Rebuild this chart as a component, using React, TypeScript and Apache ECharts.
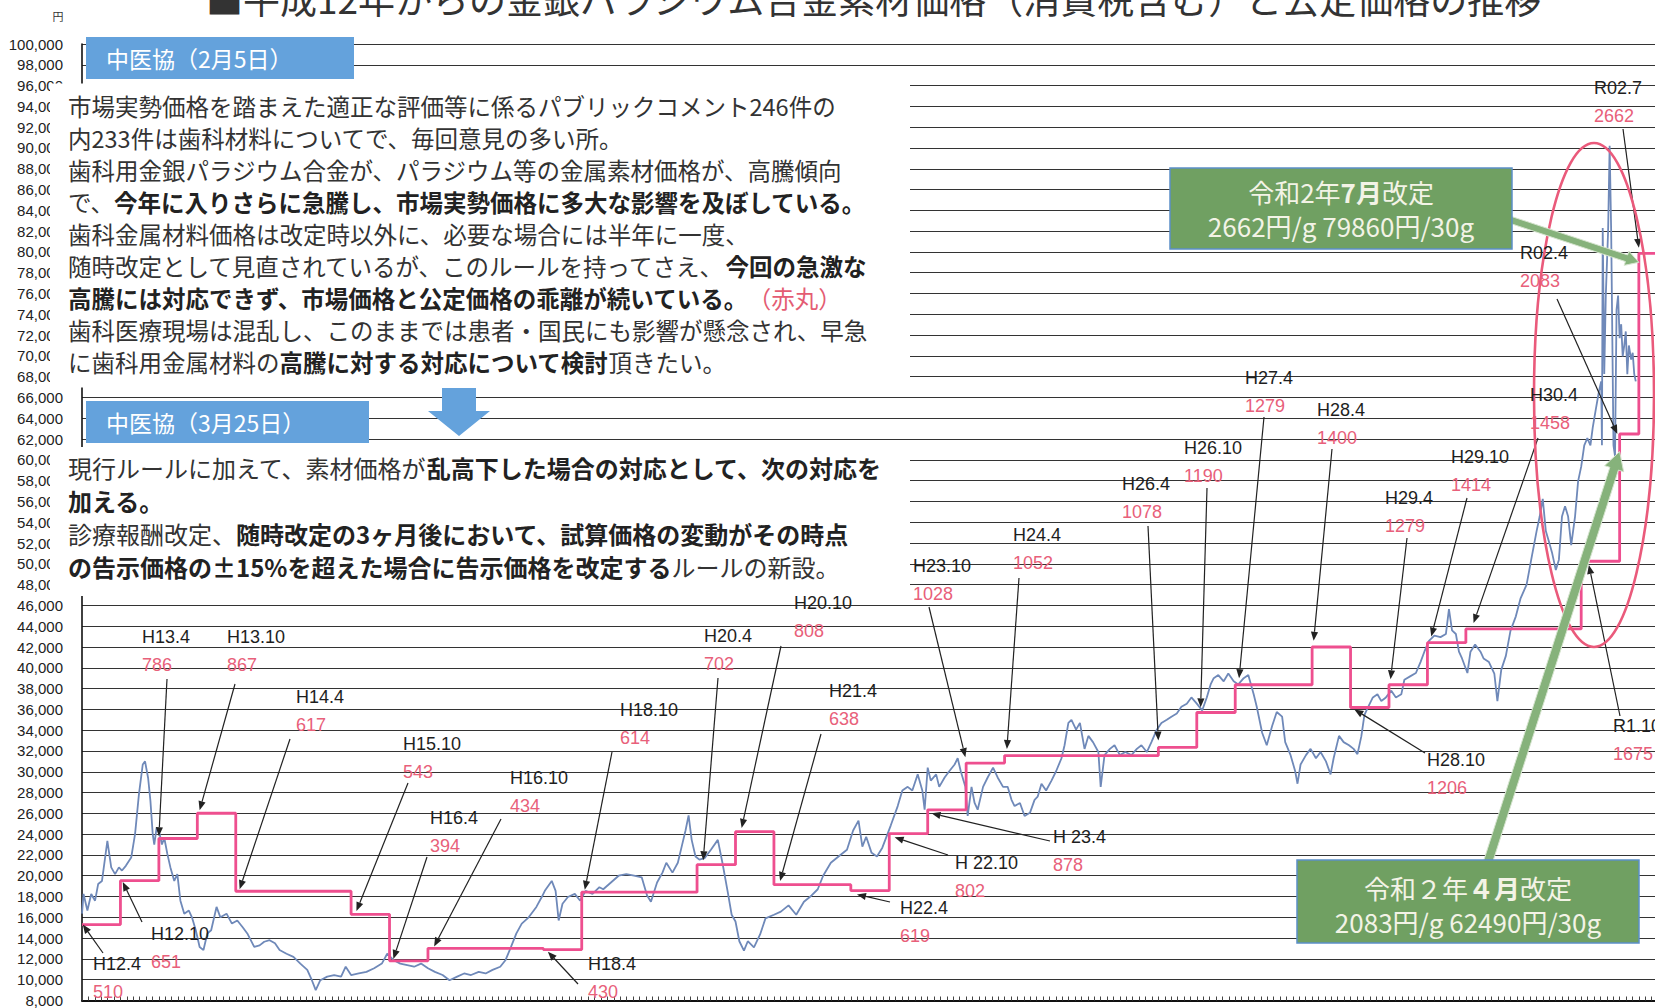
import React, { useEffect, useRef } from "react";
import * as echarts from "echarts";

// ---------- axis ranges ----------
const X_MIN = 2000.25;
const X_MAX = 2020.71;
const Y_MIN = 8000;
const Y_MAX = 100000;
const Y_STEP = 2000;

// ---------- official price revisions (円/g) ----------
const revisionYears = [
  2000.25, 2000.75, 2001.25, 2001.75, 2002.25, 2003.75, 2004.25, 2004.75, 2006.25, 2006.75,
  2008.25, 2008.75, 2009.25, 2010.25, 2010.75, 2011.25, 2011.75, 2012.25, 2014.25, 2014.75,
  2015.25, 2016.25, 2016.75, 2017.25, 2017.75, 2018.25, 2019.75, 2020.25, 2020.5,
];
const revisionLabels = [
  "H12.4", "H12.10", "H13.4", "H13.10", "H14.4", "H15.10", "H16.4", "H16.10", "H18.4", "H18.10",
  "H20.4", "H20.10", "H21.4", "H22.4", "H 22.10", "H 23.4", "H23.10", "H24.4", "H26.4", "H26.10",
  "H27.4", "H28.4", "H28.10", "H29.4", "H29.10", "H30.4", "R1.10", "R02.4", "R02.7",
];
const pricePerGram = [
  510, 651, 786, 867, 617, 543, 394, 434, 430, 614,
  702, 808, 638, 619, 802, 878, 1028, 1052, 1078, 1190,
  1279, 1400, 1206, 1279, 1414, 1458, 1675, 2083, 2662,
];
const GRAMS = 30;

// ---------- market material price (円/30g) ----------
const market2000to2006: [number, number][] = [
  [2000.25, 16350], [2000.27, 18250], [2000.32, 16650], [2000.37, 18250], [2000.42, 17600],
  [2000.46, 19200], [2000.51, 19500], [2000.58, 23350], [2000.63, 20800], [2000.68, 20150],
  [2000.73, 20800], [2000.77, 20500], [2000.82, 20950], [2000.89, 21750], [2000.94, 24000],
  [2000.99, 27800], [2001.04, 30700], [2001.07, 31000], [2001.11, 29400], [2001.14, 27200],
  [2001.17, 24000], [2001.19, 23000], [2001.22, 24600], [2001.26, 24000], [2001.29, 23000],
  [2001.32, 23650], [2001.36, 22100], [2001.40, 20800], [2001.45, 19500], [2001.49, 20150],
  [2001.53, 17600], [2001.58, 16350], [2001.64, 16650], [2001.68, 16000], [2001.73, 14750],
  [2001.78, 13150], [2001.83, 12850], [2001.88, 14450], [2001.93, 14750], [2002.00, 17000],
  [2002.05, 16000], [2002.13, 16350], [2002.20, 15400], [2002.27, 15700], [2002.34, 15050],
  [2002.40, 14450], [2002.49, 13150], [2002.56, 13300], [2002.62, 13650], [2002.69, 13800],
  [2002.76, 13500], [2002.82, 12850], [2002.91, 12500], [2003.00, 12200], [2003.09, 11550],
  [2003.18, 10950], [2003.24, 9950], [2003.29, 9000], [2003.35, 9950], [2003.44, 10300],
  [2003.53, 10450], [2003.62, 10300], [2003.68, 11250], [2003.75, 10450], [2003.85, 10600],
  [2003.95, 10750], [2004.05, 11100], [2004.15, 11550], [2004.22, 12500], [2004.30, 11900],
  [2004.39, 11550], [2004.48, 11400], [2004.57, 11250], [2004.66, 11550], [2004.75, 11100],
  [2004.84, 10750], [2004.94, 10450], [2005.03, 9950], [2005.13, 10300], [2005.22, 10600],
  [2005.31, 10450], [2005.41, 10750], [2005.50, 10600], [2005.59, 10950], [2005.69, 11250],
  [2005.76, 11900], [2005.83, 13150], [2005.90, 14450], [2005.97, 15400], [2006.06, 16000],
  [2006.16, 17000], [2006.23, 17950], [2006.27, 18550], [2006.36, 19500], [2006.41, 18550],
  [2006.45, 15700], [2006.50, 17300], [2006.57, 17950], [2006.66, 18250], [2006.73, 17600],
  [2006.80, 18550], [2006.89, 18250], [2006.98, 18900],
];
const market2007to2010: [number, number][] = [
  [2007.03, 18700], [2007.13, 19350], [2007.23, 20000], [2007.33, 20150], [2007.43, 20000],
  [2007.53, 19850], [2007.60, 18100], [2007.65, 17500], [2007.73, 19350], [2007.80, 20300],
  [2007.85, 21250], [2007.93, 20300], [2008.00, 21250], [2008.05, 22800], [2008.10, 24350],
  [2008.14, 25800], [2008.18, 23450], [2008.23, 21850], [2008.28, 21550], [2008.35, 21700],
  [2008.43, 22500], [2008.52, 23450], [2008.58, 21250], [2008.65, 18400], [2008.70, 16250],
  [2008.75, 15600], [2008.80, 13700], [2008.86, 12800], [2008.91, 13700], [2008.99, 13100],
  [2009.07, 14350], [2009.14, 15900], [2009.25, 16250], [2009.34, 16550], [2009.44, 17150],
  [2009.54, 16250], [2009.64, 17500], [2009.74, 18100], [2009.82, 18700], [2009.89, 20000],
  [2009.99, 21250], [2010.09, 21850], [2010.20, 22500], [2010.28, 24350], [2010.35, 25300],
  [2010.40, 22800], [2010.45, 23750], [2010.52, 22200], [2010.59, 21850],
];
const market2010to2016: [number, number][] = [
  [2010.66, 22700], [2010.77, 24850], [2010.86, 26700], [2010.92, 28200], [2010.99, 28550],
  [2011.05, 28200], [2011.12, 29750], [2011.18, 28200], [2011.21, 26350], [2011.25, 30400],
  [2011.29, 29150], [2011.36, 29750], [2011.40, 28550], [2011.47, 29450], [2011.53, 30050],
  [2011.60, 30700], [2011.64, 31300], [2011.68, 30050], [2011.74, 28550], [2011.77, 25750],
  [2011.82, 28550], [2011.86, 27000], [2011.90, 26350], [2011.97, 28550], [2012.03, 29450],
  [2012.10, 30400], [2012.16, 29450], [2012.23, 28550], [2012.29, 28550], [2012.34, 27300],
  [2012.38, 26700], [2012.45, 27000], [2012.51, 25750], [2012.58, 26050], [2012.64, 27300],
  [2012.68, 27600], [2012.73, 28850], [2012.79, 28200], [2012.86, 29150], [2012.92, 30050],
  [2012.99, 31300], [2013.03, 32550], [2013.08, 34700], [2013.12, 35000], [2013.18, 34050],
  [2013.23, 34700], [2013.29, 32200], [2013.34, 33450], [2013.40, 32850], [2013.47, 31900],
  [2013.50, 28550], [2013.55, 31600], [2013.62, 32200], [2013.68, 32550], [2013.75, 31600],
  [2013.82, 31900], [2013.90, 31600], [2013.97, 32200], [2014.03, 32550], [2014.10, 31900],
  [2014.16, 32850], [2014.23, 34050], [2014.29, 34700], [2014.36, 35000], [2014.42, 35300],
  [2014.49, 35600], [2014.55, 36250], [2014.62, 36550], [2014.68, 37150], [2014.75, 36550],
  [2014.82, 35900], [2014.88, 37150], [2014.93, 38400], [2014.97, 39000], [2015.03, 39300],
  [2015.10, 38700], [2015.16, 39450], [2015.23, 38700], [2015.29, 38400], [2015.36, 39000],
  [2015.42, 39300], [2015.49, 37450], [2015.53, 36250], [2015.60, 33750], [2015.66, 32550],
  [2015.73, 34400], [2015.79, 35750], [2015.86, 35300], [2015.90, 32850], [2015.97, 31600],
  [2016.03, 30050], [2016.06, 28850], [2016.10, 30700], [2016.17, 31600], [2016.23, 32200],
  [2016.30, 31300], [2016.36, 31900], [2016.43, 31000], [2016.49, 29750], [2016.53, 31300],
  [2016.60, 33450], [2016.66, 32850], [2016.73, 32550], [2016.79, 32200],
];
const market2017to2020: [number, number][] = [
  [2016.84, 31700], [2016.89, 33400], [2016.93, 35450], [2016.97, 36100], [2017.04, 37150],
  [2017.10, 37450], [2017.15, 36800], [2017.21, 37150], [2017.28, 37800], [2017.34, 37150],
  [2017.41, 37450], [2017.45, 38850], [2017.53, 39200], [2017.60, 39500], [2017.66, 40550],
  [2017.71, 41550], [2017.77, 42600], [2017.84, 43100], [2017.92, 42950], [2017.99, 43250],
  [2018.03, 45650], [2018.07, 43600], [2018.12, 43250], [2018.16, 41550], [2018.20, 40900],
  [2018.27, 39500], [2018.31, 41550], [2018.37, 42250], [2018.44, 41550], [2018.48, 40900],
  [2018.55, 40550], [2018.62, 39450], [2018.66, 36800], [2018.71, 39800], [2018.77, 41150],
  [2018.83, 43550], [2018.90, 44950], [2018.96, 46650], [2019.04, 48000], [2019.10, 50400],
  [2019.17, 53150], [2019.21, 54550], [2019.25, 56250], [2019.29, 53150], [2019.33, 52150],
  [2019.37, 51100], [2019.42, 49400], [2019.46, 50400], [2019.50, 54550], [2019.54, 55550],
  [2019.58, 54550], [2019.62, 51800], [2019.67, 54550], [2019.71, 57950], [2019.75, 59350],
  [2019.79, 61400], [2019.83, 62100], [2019.87, 61400], [2019.90, 63100], [2019.94, 64850],
  [2019.98, 66550], [2020.01, 67550], [2020.02, 61400], [2020.03, 82300], [2020.05, 68250],
  [2020.07, 75800], [2020.10, 82000], [2020.12, 90200], [2020.14, 82000], [2020.17, 61400],
  [2020.19, 60350], [2020.21, 74450], [2020.23, 75800], [2020.25, 71700], [2020.27, 73050],
  [2020.29, 69950], [2020.31, 71000], [2020.33, 72350], [2020.35, 68250], [2020.37, 71000],
  [2020.40, 69650], [2020.42, 70300], [2020.44, 68250], [2020.46, 67550],
];

// ---------- annotation layout (label pos px, arrow start px, arrow tip in data coords) ----------
const annotationLayout: { nx: number; ny: number; ax: number; ay: number; tip: [number, number] }[] = [
  { nx: 93, ny: 964, ax: 103, ay: 953, tip: [2000.26, 15300] },
  { nx: 151, ny: 934, ax: 142, ay: 922, tip: [2000.78, 19400] },
  { nx: 142, ny: 637, ax: 167, ay: 679, tip: [2001.25, 23800] },
  { nx: 227, ny: 637, ax: 235, ay: 684, tip: [2001.78, 26300] },
  { nx: 296, ny: 697, ax: 290, ay: 739, tip: [2002.3, 18700] },
  { nx: 403, ny: 744, ax: 408, ay: 783, tip: [2003.82, 16600] },
  { nx: 430, ny: 818, ax: 427, ay: 857, tip: [2004.3, 12000] },
  { nx: 510, ny: 778, ax: 501, ay: 819, tip: [2004.83, 13200] },
  { nx: 588, ny: 964, ax: 578, ay: 984, tip: [2006.31, 12700] },
  { nx: 620, ny: 710, ax: 612, ay: 752, tip: [2006.79, 18650] },
  { nx: 704, ny: 636, ax: 718, ay: 678, tip: [2008.33, 21500] },
  { nx: 794, ny: 603, ax: 781, ay: 646, tip: [2008.83, 24600] },
  { nx: 829, ny: 691, ax: 821, ay: 734, tip: [2009.33, 19500] },
  { nx: 900, ny: 908, ax: 890, ay: 902, tip: [2010.33, 18200] },
  { nx: 955, ny: 863, ax: 948, ay: 855, tip: [2010.82, 23700] },
  { nx: 1053, ny: 837, ax: 1050, ay: 841, tip: [2011.3, 26000] },
  { nx: 913, ny: 566, ax: 929, ay: 607, tip: [2011.74, 31400] },
  { nx: 1013, ny: 535, ax: 1019, ay: 578, tip: [2012.28, 32200] },
  { nx: 1122, ny: 484, ax: 1148, ay: 526, tip: [2014.25, 33000] },
  { nx: 1184, ny: 448, ax: 1207, ay: 488, tip: [2014.8, 36200] },
  { nx: 1245, ny: 378, ax: 1264, ay: 417, tip: [2015.3, 39000] },
  { nx: 1317, ny: 410, ax: 1332, ay: 449, tip: [2016.27, 42600] },
  { nx: 1427, ny: 760, ax: 1425, ay: 753, tip: [2016.8, 36000] },
  { nx: 1385, ny: 498, ax: 1407, ay: 538, tip: [2017.27, 38900] },
  { nx: 1451, ny: 457, ax: 1467, ay: 498, tip: [2017.8, 43000] },
  { nx: 1530, ny: 395, ax: 1538, ay: 438, tip: [2018.35, 44300] },
  { nx: 1613, ny: 726, ax: 1620, ay: 716, tip: [2019.85, 49900] },
  { nx: 1520, ny: 253, ax: 1557, ay: 299, tip: [2020.22, 62490] },
  { nx: 1594, ny: 88, ax: 1623, ay: 129, tip: [2020.5, 80400] },
];

// ---------- texts ----------
const TITLE = "■平成12年からの金銀パラジウム合金素材価格（消費税含む）と公定価格の推移";
const HEADER1 = "中医協（2月5日）";
const HEADER2 = "中医協（3月25日）";
const block1Lines = [
  "{n|市場実勢価格を踏まえた適正な評価等に係るパブリックコメント246件の}",
  "{n|内233件は歯科材料についてで、毎回意見の多い所。}",
  "{n|歯科用金銀パラジウム合金が、パラジウム等の金属素材価格が、高騰傾向}",
  "{n|で、}{b|今年に入りさらに急騰し、市場実勢価格に多大な影響を及ぼしている。}",
  "{n|歯科金属材料価格は改定時以外に、必要な場合には半年に一度、}",
  "{n|随時改定として見直されているが、このルールを持ってさえ、}{b|今回の急激な}",
  "{b|高騰には対応できず、市場価格と公定価格の乖離が続いている。}{r|（赤丸）}",
  "{n|歯科医療現場は混乱し、このままでは患者・国民にも影響が懸念され、早急}",
  "{n|に歯科用金属材料の}{b|高騰に対する対応について検討}{n|頂きたい。}",
];
const block2Lines = [
  "{n|現行ルールに加えて、素材価格が}{b|乱高下した場合の対応として、次の対応を}",
  "{b|加える。}",
  "{n|診療報酬改定、}{b|随時改定の3ヶ月後において、試算価格の変動がその時点}",
  "{b|の告示価格の±15%を超えた場合に告示価格を改定する}{n|ルールの新設。}",
];
const boxJulyLines = ["{n|令和2年}{b|7月}{n|改定}", "{n|2662円/g 79860円/30g}"];
const boxAprilLines = ["{n|令和２年}{b|４月}{n|改定}", "{n|2083円/g 62490円/30g}"];

const JP = "'Noto Sans CJK JP', 'Noto Sans CJK SC', sans-serif";
const LAT = "'Liberation Sans', Arial, sans-serif";

function richText(fontSize: number, color: string, boldColor: string) {
  return {
    n: { fontSize, fontFamily: JP, fill: color, fontWeight: "normal" },
    b: { fontSize, fontFamily: JP, fill: boldColor, fontWeight: "bold" },
    r: { fontSize, fontFamily: JP, fill: "#e45c73", fontWeight: "normal" },
  };
}

function thinArrow(x1: number, y1: number, x2: number, y2: number) {
  const dx = x2 - x1, dy = y2 - y1;
  const L = Math.hypot(dx, dy) || 1;
  const ux = dx / L, uy = dy / L, pxv = -uy, pyv = ux;
  const hl = 9, hw = 3.6;
  const bx = x2 - ux * hl, by = y2 - uy * hl;
  return [
    { type: "line", z: 110, shape: { x1, y1, x2: bx, y2: by }, style: { stroke: "#222", lineWidth: 1.2 } },
    {
      type: "polygon", z: 110,
      shape: { points: [[x2, y2], [bx + pxv * hw, by + pyv * hw], [bx - pxv * hw, by - pyv * hw]] },
      style: { fill: "#222" },
    },
  ];
}

function fatArrow(x1: number, y1: number, x2: number, y2: number, w: number, hw: number, hl: number) {
  const dx = x2 - x1, dy = y2 - y1;
  const L = Math.hypot(dx, dy) || 1;
  const ux = dx / L, uy = dy / L, p = [-uy, ux];
  const bx = x2 - ux * hl, by = y2 - uy * hl;
  const pts = [
    [x1 + p[0] * w, y1 + p[1] * w],
    [bx + p[0] * w, by + p[1] * w],
    [bx + p[0] * hw, by + p[1] * hw],
    [x2, y2],
    [bx - p[0] * hw, by - p[1] * hw],
    [bx - p[0] * w, by - p[1] * w],
    [x1 - p[0] * w, y1 - p[1] * w],
  ];
  return {
    type: "polygon", z: 115, shape: { points: pts },
    style: { fill: "#86b27b", stroke: "#d6e4cf", lineWidth: 1 },
  };
}

function buildGraphics(px: (p: number[]) => number[]) {
  const g: any[] = [];
  // white text panels covering the grid
  g.push({ type: "rect", z: 100, shape: { x: 50, y: 83.5, width: 860, height: 304 }, style: { fill: "#fff" } });
  g.push({ type: "rect", z: 100, shape: { x: 50, y: 447, width: 860, height: 149 }, style: { fill: "#fff" } });

  // title (cut at top) and unit
  g.push({
    type: "text", z: 120, x: 206, y: -2,
    style: { text: TITLE, fontSize: 37, fontFamily: JP, fill: "#333", textVerticalAlign: "middle" },
  });
  g.push({
    type: "text", z: 120, x: 58, y: 16,
    style: { text: "円", fontSize: 11, fontFamily: JP, fill: "#333", textAlign: "center", textVerticalAlign: "middle" },
  });

  // blue header boxes
  g.push({ type: "rect", z: 105, shape: { x: 86, y: 37, width: 268, height: 42 }, style: { fill: "#64a2dc" } });
  g.push({
    type: "text", z: 120, x: 106, y: 58,
    style: { text: HEADER1, fontSize: 23, fontFamily: JP, fill: "#fff", textVerticalAlign: "middle" },
  });
  g.push({ type: "rect", z: 105, shape: { x: 86, y: 401, width: 283, height: 42 }, style: { fill: "#64a2dc" } });
  g.push({
    type: "text", z: 120, x: 106, y: 422,
    style: { text: HEADER2, fontSize: 23, fontFamily: JP, fill: "#fff", textVerticalAlign: "middle" },
  });
  // blue down arrow
  g.push({
    type: "polygon", z: 105,
    shape: { points: [[442, 388], [476, 388], [476, 411], [490, 411], [459, 436], [428, 411], [442, 411]] },
    style: { fill: "#64a2dc" },
  });

  // paragraph text
  block1Lines.forEach((line, i) => {
    g.push({
      type: "text", z: 120, x: 68, y: 105.5 + i * 32,
      style: { text: line, rich: richText(23.5, "#333", "#222"), fontSize: 23.5, fontFamily: JP, textVerticalAlign: "middle" },
    });
  });
  block2Lines.forEach((line, i) => {
    g.push({
      type: "text", z: 120, x: 68, y: 467.5 + i * 33,
      style: { text: line, rich: richText(24, "#333", "#222"), fontSize: 24, fontFamily: JP, textVerticalAlign: "middle" },
    });
  });

  // revision annotations
  annotationLayout.forEach((a, i) => {
    g.push({
      type: "text", z: 120, x: a.nx, y: a.ny,
      style: { text: revisionLabels[i], fontSize: 18, fontFamily: LAT, fill: "#1e1e1e", textVerticalAlign: "middle" },
    });
    g.push({
      type: "text", z: 120, x: a.nx, y: a.ny + 28,
      style: { text: String(pricePerGram[i]), fontSize: 18, fontFamily: LAT, fill: "#e8607a", textVerticalAlign: "middle" },
    });
    const t = px(a.tip);
    thinArrow(a.ax, a.ay, t[0], t[1]).forEach((e) => g.push(e));
  });

  // red ellipse
  g.push({
    type: "ellipse", z: 112,
    shape: { cx: 1594, cy: 395, rx: 60, ry: 252 },
    style: { fill: "none", stroke: "#ea5a7b", lineWidth: 2.6 },
  });

  // green boxes + arrows
  const tipJuly = px([revisionYears[28], 79000]);
  const tipApril = px([revisionYears[27], 60800]);
  g.push(fatArrow(1508, 219, tipJuly[0], tipJuly[1], 3.5, 7.5, 13));
  g.push(fatArrow(1488, 862, tipApril[0], tipApril[1], 4.5, 10, 18));

  g.push({
    type: "rect", z: 116, shape: { x: 1170, y: 168, width: 342, height: 81 },
    style: { fill: "#70a062", stroke: "#5b8fc7", lineWidth: 1.5 },
  });
  boxJulyLines.forEach((line, i) => {
    g.push({
      type: "text", z: 120, x: 1341, y: 191 + i * 34,
      style: { text: line, rich: richText(26, "#f3f3e6", "#f3f3e6"), fontSize: 26, fontFamily: JP, textAlign: "center", textVerticalAlign: "middle" },
    });
  });
  g.push({
    type: "rect", z: 116, shape: { x: 1297, y: 860, width: 342, height: 83 },
    style: { fill: "#70a062", stroke: "#5b8fc7", lineWidth: 1.5 },
  });
  boxAprilLines.forEach((line, i) => {
    g.push({
      type: "text", z: 120, x: 1468, y: 887 + i * 34,
      style: { text: line, rich: richText(26, "#f3f3e6", "#f3f3e6"), fontSize: 26, fontFamily: JP, textAlign: "center", textVerticalAlign: "middle" },
    });
  });
  return g;
}

export default function App() {
  const ref = useRef<HTMLDivElement>(null);
  useEffect(() => {
    const el = ref.current;
    if (!el) return;
    const chart = echarts.init(el, null, { renderer: "svg" });
    const marketData = [...market2000to2006, ...market2007to2010, ...market2010to2016, ...market2017to2020];
    const officialData: number[][] = revisionYears.map((t, i) => [t, pricePerGram[i] * GRAMS]);
    officialData.push([X_MAX, pricePerGram[pricePerGram.length - 1] * GRAMS]);

    chart.setOption({
      animation: false,
      backgroundColor: "#ffffff",
      grid: { left: 82, right: 0, top: 44, bottom: 7, containLabel: false },
      xAxis: {
        type: "value", min: X_MIN, max: X_MAX, interval: 1 / 12,
        axisLine: { show: true, onZero: false, lineStyle: { color: "#111", width: 2 } },
        axisTick: { show: true, inside: true, length: 4, lineStyle: { color: "#444", width: 1 } },
        axisLabel: { show: false },
        splitLine: { show: false },
      },
      yAxis: {
        type: "value", min: Y_MIN, max: Y_MAX, interval: Y_STEP,
        axisLine: { show: true, lineStyle: { color: "#111", width: 1.6 } },
        axisTick: { show: false },
        axisLabel: {
          margin: 19, fontSize: 15, fontFamily: LAT, color: "#222",
          formatter: (v: number) => v.toLocaleString("en-US"),
        },
        splitLine: { show: true, lineStyle: { color: "#333", width: 1.2 } },
      },
      series: [
        {
          name: "素材価格", type: "line", data: marketData, showSymbol: false, z: 3,
          lineStyle: { color: "#6f89b9", width: 1.8 },
        },
        {
          name: "公定価格", type: "line", step: "end", data: officialData, showSymbol: false, z: 4,
          lineStyle: { color: "#ee4f8f", width: 2.8 },
        },
      ],
    });
    const px = (p: number[]) => chart.convertToPixel({ gridIndex: 0 }, p) as number[];
    chart.setOption({ graphic: { elements: buildGraphics(px) } });
    return () => chart.dispose();
  }, []);
  return (
    <div
      ref={ref}
      style={{ position: "absolute", left: 0, top: 0, width: 1655, height: 1008, background: "#fff" }}
    />
  );
}
